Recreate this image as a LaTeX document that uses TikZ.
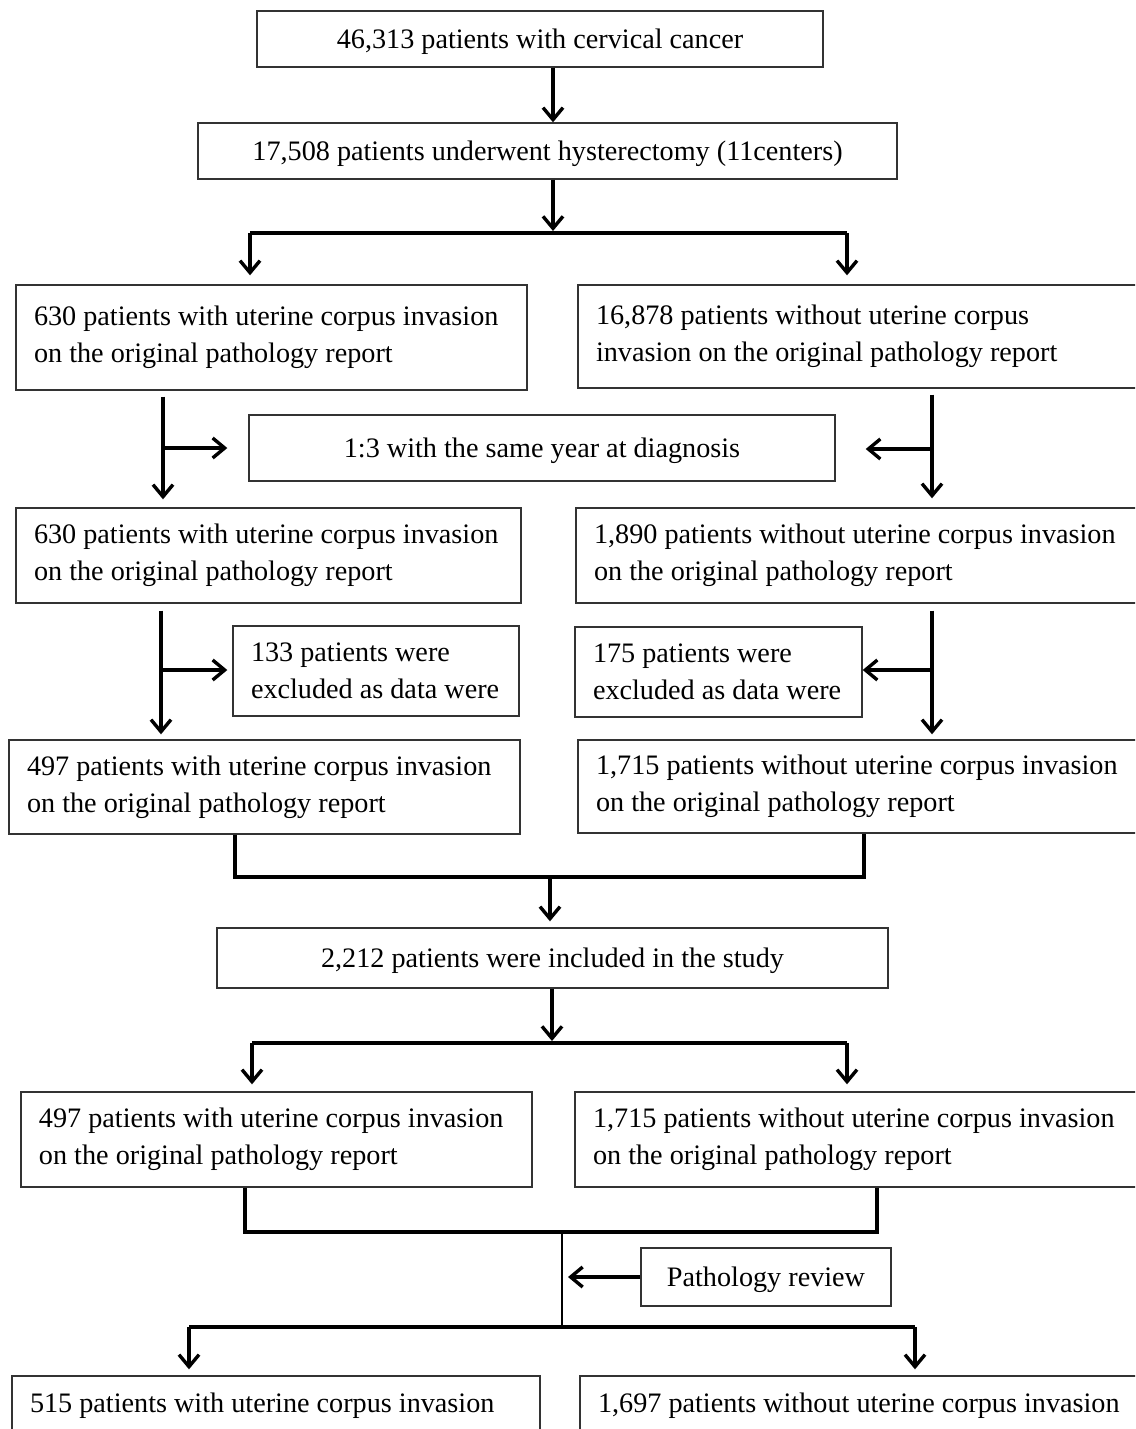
\documentclass[tikz,border=0pt]{standalone}
\usepackage{fontspec}
\setmainfont{Liberation Serif}
\usetikzlibrary{arrows.meta, positioning, calc}

\begin{document}
\begin{tikzpicture}[
    x=0.5pt, y=-0.5pt,
    >={Straight Barb[length=6pt, width=10pt]},
    font=\fontsize{14.1}{18.5}\selectfont,
    box/.style={draw=black!80, line width=0.7pt, inner xsep=9pt, inner ysep=4pt, fill=white},
    midbox/.style={box, align=center, text depth=0pt},
    leftbox/.style={box, align=flush left, text width=#1},
    arr/.style={->, line width=1.7pt},
    bar/.style={line width=2pt}
]

\useasboundingbox (0,0) rectangle (1135,1429);
\clip (0,0) rectangle (1135,1429);

% ================= SCREENING =================
\node[midbox, minimum width=283pt, minimum height=28pt] (cancer) at (540,39) {46,313 patients with cervical cancer};
\node[midbox, minimum width=349.5pt, minimum height=28pt] (hyst) at (547.5,151) {17,508 patients underwent hysterectomy (11centers)};

\node[leftbox=237.5pt, minimum height=52.5pt] (origL) at (271.5,337.5) {630 patients with uterine corpus invasion \\ on the original pathology report};
\node[leftbox=263pt, minimum height=51.5pt] (origR) at (859,336.5) {16,878 patients without uterine corpus \\ invasion on the original pathology report};

% Arrows after hysterectomy
\coordinate (split1) at (553,233);
\coordinate (split1L) at (250,233);
\coordinate (split1R) at (847,233);
\draw[arr] (cancer.south -| split1) -- (hyst.north -| split1);
\draw[arr, shorten >=1pt] (hyst.south -| split1) -- (split1);
\draw[bar] (split1L) -- (split1R);
\draw[arr, shorten >=4.5pt] (split1L) -- (split1L |- origL.north);
\draw[arr, shorten >=4.5pt] (split1R) -- (split1R |- origR.north);

% ================= MATCHING =================
\node[midbox, minimum width=293pt, minimum height=33pt] (match) at (542,448) {1:3 with the same year at diagnosis};

\node[leftbox=234.5pt, minimum height=47.5pt] (matchL) at (268.5,555.5) {630 patients with uterine corpus invasion \\ on the original pathology report};
\node[leftbox=264pt, minimum height=47.5pt] (matchR) at (858,555.5) {1,890 patients without uterine corpus invasion \\ on the original pathology report};

\coordinate (joinL1) at (163,448);
\coordinate (joinR1) at (932,449);
\draw[arr, shorten <=3pt, shorten >=4pt] (origL.south -| joinL1) -- (matchL.north -| joinL1);
\draw[arr, shorten >=10.5pt] (joinL1) -- (match.west |- joinL1);
\draw[arr, shorten <=3pt, shorten >=4.5pt] (origR.south -| joinR1) -- (matchR.north -| joinR1);
\draw[arr, shorten >=15pt] (joinR1) -- (match.east |- joinR1);

% ================= EXCLUSION =================
\node[leftbox=125pt, minimum height=45pt] (exclL) at (376,671) {133 patients were \\ excluded as data were};
\node[leftbox=125.5pt, minimum height=45pt] (exclR) at (718.5,672) {175 patients were \\ excluded as data were};

\node[leftbox=237.5pt, minimum height=47pt] (keptL) at (264.5,787) {497 patients with uterine corpus invasion \\ on the original pathology report};
\node[leftbox=263pt, minimum height=46.5pt] (keptR) at (859,786.5) {1,715 patients without uterine corpus invasion \\ on the original pathology report};

\coordinate (joinL2) at (161,670);
\coordinate (joinR2) at (932,670);
\draw[arr, shorten <=3.5pt, shorten >=2.5pt] (matchL.south -| joinL2) -- (keptL.north -| joinL2);
\draw[arr, shorten >=2.5pt] (joinL2) -- (exclL.west |- joinL2);
\draw[arr, shorten <=3.5pt, shorten >=2.5pt] (matchR.south -| joinR2) -- (keptR.north -| joinR2);
\draw[arr] (joinR2) -- (exclR.east |- joinR2);

% ================= STUDY =================
\node[midbox, minimum width=335.5pt, minimum height=30pt] (study) at (552.5,958) {2,212 patients were included in the study};

\coordinate (mergeL1) at (235,877);
\coordinate (mergeR1) at (864,877);
\coordinate (merge1) at (550,877);
\draw[bar] (keptL.south -| mergeL1) -- (mergeL1) -- (mergeR1) -- (keptR.south -| mergeR1);
\draw[arr, shorten >=3pt] (merge1) -- (study.north -| merge1);

\node[leftbox=237.5pt, minimum height=47.5pt] (studyL) at (276.5,1139.5) {497 patients with uterine corpus invasion \\ on the original pathology report};
\node[leftbox=264.5pt, minimum height=47.5pt] (studyR) at (857.5,1139.5) {1,715 patients without uterine corpus invasion \\ on the original pathology report};

\coordinate (split2) at (552,1043);
\coordinate (split2L) at (252,1043);
\coordinate (split2R) at (847,1043);
\draw[arr, shorten >=1pt] (study.south -| split2) -- (split2);
\draw[bar] (split2L) -- (split2R);
\draw[arr, shorten >=3.5pt] (split2L) -- (split2L |- studyL.north);
\draw[arr, shorten >=3.5pt] (split2R) -- (split2R |- studyR.north);

% ================= PATHOLOGY REVIEW =================
\node[midbox, minimum width=125pt, minimum height=29pt] (review) at (766,1277) {Pathology review};

\node[leftbox=246pt, minimum height=30pt] (finalL) at (276,1406) {515 patients with uterine corpus invasion};
\node[leftbox=262pt, minimum height=30pt] (finalR) at (860,1406) {1,697 patients without uterine corpus invasion};

\coordinate (mergeL2) at (245,1232);
\coordinate (mergeR2) at (877,1232);
\coordinate (merge2) at (562,1232);
\coordinate (split3) at (562,1327);
\coordinate (split3L) at (189,1327);
\coordinate (split3R) at (915,1327);
\draw[bar] (studyL.south -| mergeL2) -- (mergeL2) -- (mergeR2) -- (studyR.south -| mergeR2);
\draw[line width=1.3pt] (merge2) -- (split3);
\draw[arr, shorten >=3pt] (review.west) -- (review.west -| split3);
\draw[bar] (split3L) -- (split3R);
\draw[arr, shorten >=3pt] (split3L) -- (split3L |- finalL.north);
\draw[arr, shorten >=3pt] (split3R) -- (split3R |- finalR.north);

\end{tikzpicture}
\end{document}
